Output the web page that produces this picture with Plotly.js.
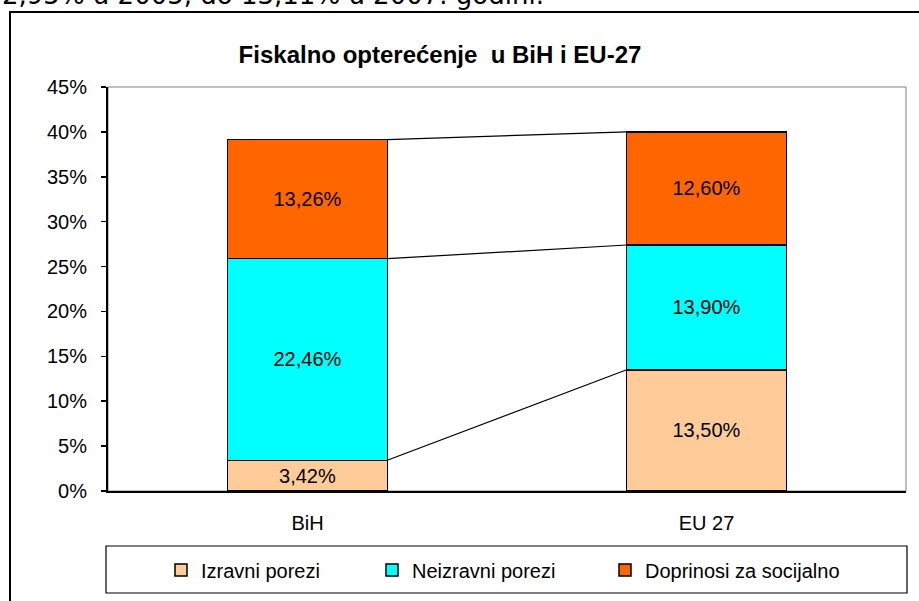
<!DOCTYPE html>
<html><head><meta charset="utf-8">
<script src="https://cdn.plot.ly/plotly-3.0.1.min.js"></script>
<style>html,body{margin:0;padding:0;background:#fff;}#chart{width:919px;height:601px;}</style>
</head><body><div id="chart"></div>
<script>
const categories = ['BiH', 'EU 27'];
const seriesNames = ['Izravni porezi', 'Neizravni porezi', 'Doprinosi za socijalno'];
const izravni = [3.42, 13.50];
const neizravni = [22.46, 13.90];
const doprinosi = [13.26, 12.60];
const yTickVals = [0, 5, 10, 15, 20, 25, 30, 35, 40, 45];
const yTickText = ['0%', '5%', '10%', '15%', '20%', '25%', '30%', '35%', '40%', '45%'];
const colors = ['#FFCC99', '#00FFFF', '#FF6600'];

const series = [izravni, neizravni, doprinosi];
const fmt = v => v.toFixed(2).replace('.', ',') + '%';

const W = 919, H = 601, L = 108, R = 13, T = 87, B = 110;
const pw = W - L - R, ph = H - T - B;
const px = x => (x - L) / pw;
const py = y => (H - B - y) / ph;

const legendIds = ['legend', 'legend2', 'legend3'];
const traces = series.map((vals, i) => ({
  type: 'bar', x: categories, y: vals, name: seriesNames[i], legend: legendIds[i],
  text: vals.map(fmt), textposition: 'inside', insidetextanchor: 'middle',
  textangle: 0, constraintext: 'none',
  textfont: {family: 'Arial, Liberation Sans', size: 20, color: '#000'},
  marker: {color: colors[i], line: {color: '#000', width: 1.5}},
  hoverinfo: 'none'
}));

// connector lines between stack tops
const halfW = 0.2;
let cum = [0, 0];
series.forEach((vals, i) => {
  cum = cum.map((c, k) => c + vals[k]);
  traces.push({
    type: 'scatter', mode: 'lines', xaxis: 'x2', yaxis: 'y',
    x: [0 + halfW, 1 - halfW], y: [cum[0], cum[1]],
    line: {color: '#000', width: 1.2}, showlegend: false, hoverinfo: 'none'
  });
});

const legendFont = {family: 'Arial, Liberation Sans', size: 20, color: '#000'};
const mkLegend = (xpx) => ({orientation: 'h', x: px(xpx), xanchor: 'left', y: py(570), yanchor: 'middle',
  bgcolor: 'rgba(0,0,0,0)', borderwidth: 0, itemwidth: 30, font: legendFont});

const layout = {
  width: W, height: H,
  margin: {l: L, r: R, t: T, b: B, pad: 0},
  paper_bgcolor: '#fff', plot_bgcolor: '#fff',
  barmode: 'stack', bargap: 0.6,
  font: {family: 'Arial, Liberation Sans', size: 20, color: '#000'},
  title: {text: 'Fiskalno opterećenje  u BiH i EU-27', x: 440 / W, xanchor: 'center',
          y: 1 - 55 / H, yanchor: 'middle',
          font: {family: 'Arial, Liberation Sans', size: 24, color: '#000', weight: 'bold'}},
  xaxis: {type: 'category', range: [-0.5, 1.5], showline: true, linecolor: '#000', linewidth: 2,
          ticks: '', showgrid: false, zeroline: false, ticklabelstandoff: 13,
          tickfont: {size: 20}},
  xaxis2: {overlaying: 'x', range: [-0.5, 1.5], visible: false, showgrid: false, zeroline: false},
  yaxis: {range: [0, 45], tickvals: yTickVals, ticktext: yTickText, showline: true, linecolor: '#000',
          linewidth: 2, ticks: 'outside', ticklen: 5, tickwidth: 1.5, tickcolor: '#000',
          showgrid: false, zeroline: false, ticklabelstandoff: 10, tickfont: {size: 20}},
  showlegend: true,
  legend: mkLegend(161),
  legend2: mkLegend(372),
  legend3: mkLegend(605),
  shapes: [
    {type: 'rect', xref: 'paper', yref: 'paper', x0: 0, x1: 1, y0: 0, y1: 1,
     line: {color: '#808080', width: 1}, layer: 'below'},
    {type: 'rect', xref: 'paper', yref: 'paper', x0: px(106), x1: px(907), y0: py(593), y1: py(546),
     line: {color: '#000', width: 1.2}},
    {type: 'rect', xref: 'paper', yref: 'paper', x0: px(10), x1: px(930), y0: py(620), y1: py(12),
     line: {color: '#000', width: 2}}
  ],
  annotations: [
    {text: '2,95% u 2005, do 13,11% u 2007. godini.', xref: 'paper', yref: 'paper',
     x: px(0), y: py(-22), xanchor: 'left', yanchor: 'top', showarrow: false,
     font: {family: 'DejaVu Sans, Verdana', size: 26, color: '#000'}}
  ]
};

Plotly.newPlot('chart', traces, layout, {displayModeBar: false, staticPlot: true});
</script></body></html>
